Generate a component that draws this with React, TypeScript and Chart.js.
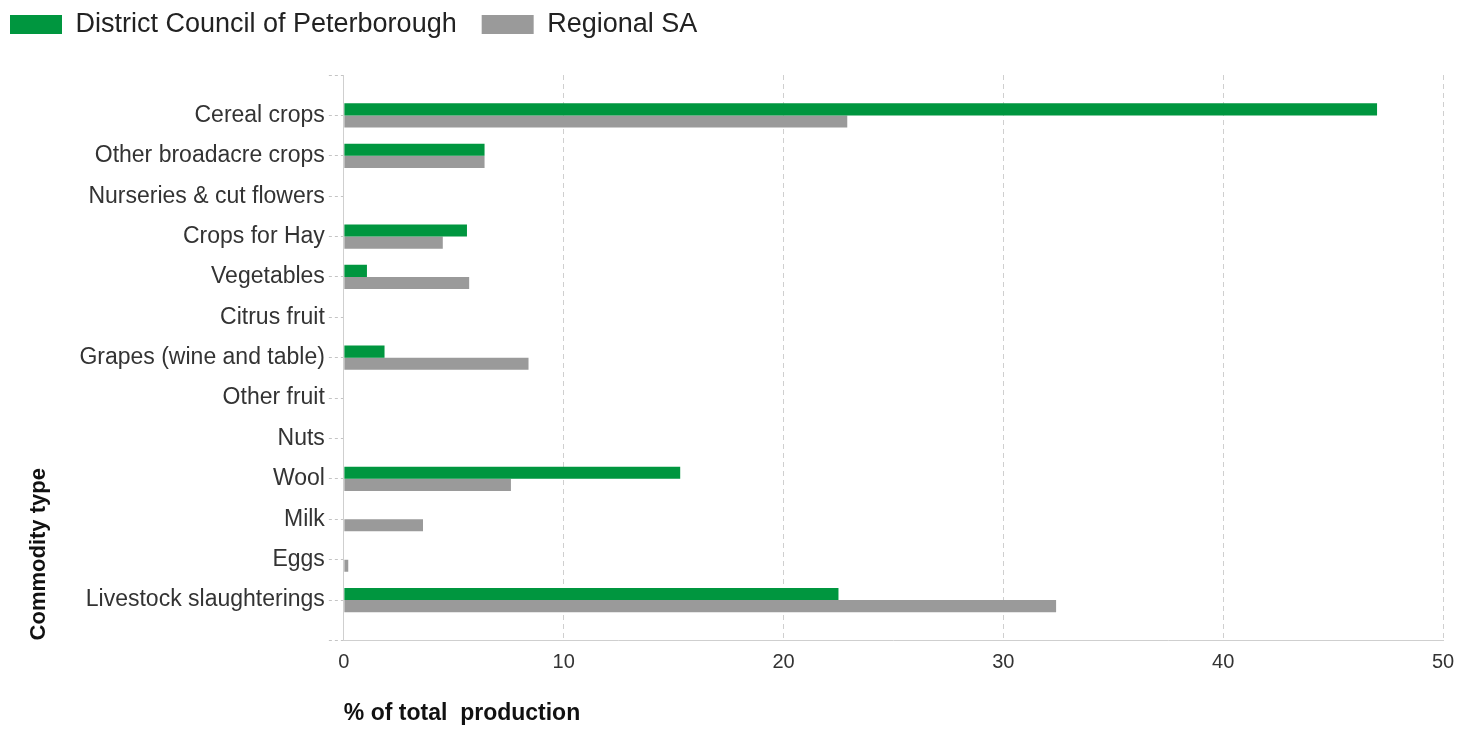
import React, { useEffect, useRef } from "react";
import { Chart, registerables } from "chart.js";

Chart.register(...registerables);

const categories = [
  "",
  "Cereal crops",
  "Other broadacre crops",
  "Nurseries & cut flowers",
  "Crops for Hay",
  "Vegetables",
  "Citrus fruit",
  "Grapes (wine and table)",
  "Other fruit",
  "Nuts",
  "Wool",
  "Milk",
  "Eggs",
  "Livestock slaughterings",
  "",
];

const peterborough = [null, 47.0, 6.4, 0, 5.6, 1.05, 0, 1.85, 0, 0, 15.3, 0, 0, 22.5, null];
const regionalSA = [null, 22.9, 6.4, 0, 4.5, 5.7, 0, 8.4, 0, 0, 7.6, 3.6, 0.2, 32.4, null];

const xTicks = [0, 10, 20, 30, 40, 50];
const seriesNames = ["District Council of Peterborough", "Regional SA"];
const seriesColors = ["#00963f", "#9a9a9a"];

const FONT = "Arial, 'Liberation Sans', sans-serif";

export default function App() {
  const ref = useRef<HTMLCanvasElement | null>(null);

  useEffect(() => {
    document.body.style.margin = "0";
    const legendSpacer = {
      id: "legendSpacer",
      beforeInit(chart: any) {
        const legend = chart.legend;
        const origFit = legend.fit;
        legend.fit = function () {
          origFit.call(this);
          this.height += 13;
        };
        const origDraw = legend.draw;
        legend.draw = function () {
          const ctx = this.ctx;
          ctx.save();
          ctx.translate(-15, -14);
          origDraw.call(this);
          ctx.restore();
        };
      },
    };
    const chart = new Chart(ref.current as HTMLCanvasElement, {
      type: "bar",
      data: {
        labels: categories,
        datasets: [
          {
            label: seriesNames[0],
            data: peterborough as any,
            backgroundColor: seriesColors[0],
            categoryPercentage: 0.6,
            barPercentage: 1,
          },
          {
            label: seriesNames[1],
            data: regionalSA as any,
            backgroundColor: seriesColors[1],
            categoryPercentage: 0.6,
            barPercentage: 1,
          },
        ],
      },
      plugins: [legendSpacer],
      options: {
        indexAxis: "y",
        animation: false,
        responsive: true,
        maintainAspectRatio: false,
        layout: { padding: { left: 0, right: 33, top: 0, bottom: 2 } },
        plugins: {
          tooltip: { enabled: false },
          legend: {
            position: "top",
            align: "start",
            labels: {
              boxWidth: 52,
              boxHeight: 19,
              padding: 25,
              color: "#222",
              font: { family: FONT, size: 27 },
            },
          },
        },
        scales: {
          x: {
            type: "linear",
            min: 0,
            max: 50,
            afterBuildTicks(axis: any) {
              axis.ticks = xTicks.map((v) => ({ value: v }));
            },
            grid: {
              color: (ctx: any) => (ctx.tick && ctx.tick.value === 0 ? "rgba(0,0,0,0)" : "#cfcfcf"),
              drawTicks: false,
              lineWidth: 1,
            },
            border: { display: true, color: "#cfcfcf", dash: [5, 4] },
            ticks: {
              color: "#333",
              padding: 10,
              font: { family: FONT, size: 20 },
            },
            title: {
              display: true,
              text: "% of total  production",
              align: "start",
              color: "#111",
              font: { family: FONT, size: 23, weight: "bold" },
              padding: { top: 15, bottom: 0 },
            },
          },
          y: {
            type: "category",
            offset: false,
            grid: {
              offset: false,
              drawOnChartArea: false,
              drawTicks: true,
              tickLength: 15,
              tickColor: "#c4c4c4",
              tickBorderDash: [3, 3],
            },
            border: { display: true, color: "#cfcfcf" },
            ticks: {
              color: "#333",
              padding: 4,
              autoSkip: false,
              font: { family: FONT, size: 23 },
            },
            title: {
              display: true,
              text: "Commodity type",
              align: "start",
              color: "#111",
              font: { family: FONT, size: 22, weight: "bold" },
              padding: { top: 26, bottom: 23 },
            },
          },
        },
      },
    } as any);
    return () => chart.destroy();
  }, []);

  return (
    <div style={{ position: "fixed", left: 0, top: 0, width: 1476, height: 729 }}>
      <canvas ref={ref} />
    </div>
  );
}
